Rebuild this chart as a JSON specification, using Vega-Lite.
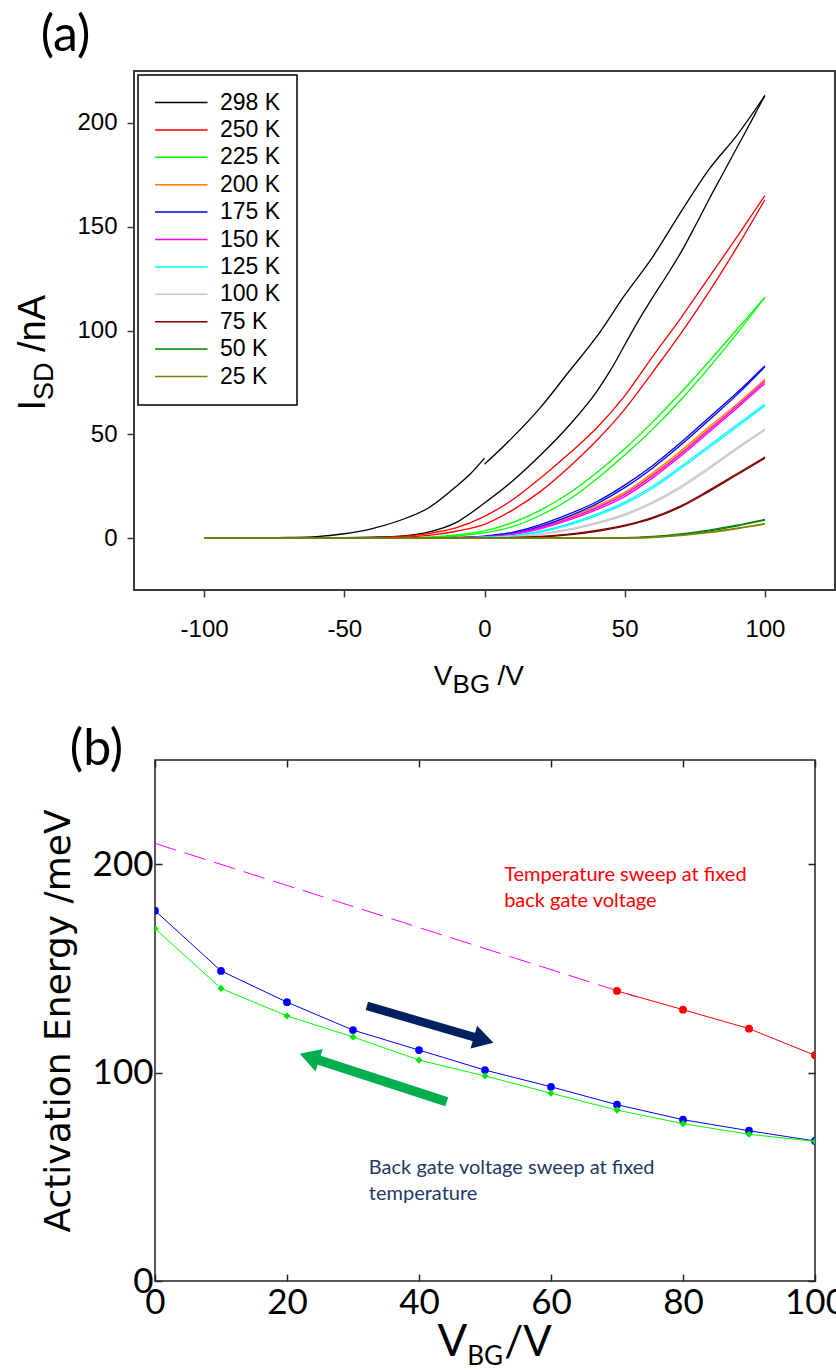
{
  "$schema": "https://vega.github.io/schema/vega-lite/v6.json",
  "background": "white",
  "padding": {"left": 14, "top": 10, "right": 0, "bottom": 0},
  "config": {
    "view": {"stroke": "#3a3a3a", "strokeWidth": 2},
    "axis": {"grid": false, "domain": false, "labelColor": "#000000", "tickColor": "#3a3a3a", "tickWidth": 1.5, "labelOverlap": false, "labelFlush": false},
    "legend": {"strokeWidth": 1.5}
  },
  "datasets": {
    "iv": [
      {"T": "298 K", "s": "a1", "V": [-100, -80, -70, -60, -50, -40, -30, -20, -10, -5, 0], "I": [0, 0.1, 0.3, 0.7, 2.1, 4.6, 8.6, 14.5, 25, 31, 38.5]},
      {"T": "298 K", "s": "a2", "V": [0, 10, 20, 30, 40, 50, 60, 70, 80, 90, 100], "I": [35.6, 48.5, 63, 80, 97, 117, 135.5, 157, 177.5, 194, 213.2]},
      {"T": "298 K", "s": "b", "V": [-100, -60, -50, -40, -30, -20, -10, 0, 10, 20, 30, 40, 45, 50, 55, 60, 65, 70, 75, 80, 85, 90, 95, 100], "I": [0, 0.1, 0.2, 0.5, 1.0, 2.9, 7.6, 16.9, 27.5, 40, 54, 70.5, 81, 93, 105, 116, 126.5, 137.5, 150, 163, 175.5, 188, 200.5, 213.2]},
      {"T": "250 K", "s": "a", "V": [-100, -50, -40, -30, -20, -10, 0, 10, 20, 30, 40, 50, 60, 70, 80, 90, 100], "I": [0, 0, 0.2, 0.8, 2.2, 5, 10.5, 18.5, 29, 40.5, 53, 68.5, 87.5, 106, 125.5, 145, 165]},
      {"T": "250 K", "s": "b", "V": [-100, -50, -40, -30, -20, -10, 0, 10, 20, 30, 40, 50, 60, 70, 80, 90, 100], "I": [0, 0, 0.1, 0.4, 1.3, 3.3, 6.6, 13.5, 22.5, 34, 47, 62, 80, 98.5, 118.5, 140, 163]},
      {"T": "225 K", "s": "a", "V": [-100, -40, -30, -20, -10, 0, 10, 20, 30, 40, 50, 60, 70, 80, 90, 100], "I": [0, 0, 0.2, 0.5, 1.5, 3.5, 7.5, 13.5, 21.5, 31.5, 43, 56, 70, 85, 100.5, 116]},
      {"T": "225 K", "s": "b", "V": [-100, -40, -30, -20, -10, 0, 10, 20, 30, 40, 50, 60, 70, 80, 90, 100], "I": [0, 0, 0, 0.3, 1.0, 2.5, 5.5, 11, 18.5, 28.5, 40, 52.5, 66.5, 82, 98.5, 116]},
      {"T": "200 K", "s": "a", "V": [-100, -20, -10, 0, 10, 20, 30, 40, 50, 60, 70, 80, 90, 100], "I": [0, 0, 0.3, 0.8, 2.3, 5.5, 10, 15.5, 22, 31.5, 42, 53.5, 64.5, 76.5]},
      {"T": "200 K", "s": "b", "V": [-100, -20, -10, 0, 10, 20, 30, 40, 50, 60, 70, 80, 90, 100], "I": [0, 0, 0.2, 0.6, 2, 5, 9.4, 14.8, 21.2, 30.6, 41, 52.5, 63.5, 75.8]},
      {"T": "175 K", "s": "a", "V": [-100, -20, -10, 0, 10, 20, 30, 40, 50, 60, 70, 80, 90, 100], "I": [0, 0, 0.3, 1.0, 2.8, 6.5, 11.5, 17.5, 25.5, 35, 46, 58, 70, 83]},
      {"T": "175 K", "s": "b", "V": [-100, -20, -10, 0, 10, 20, 30, 40, 50, 60, 70, 80, 90, 100], "I": [0, 0, 0.2, 0.7, 2.3, 5.7, 10.5, 16.5, 24.3, 33.8, 44.8, 56.8, 69, 82.5]},
      {"T": "150 K", "s": "a", "V": [-100, -20, -10, 0, 10, 20, 30, 40, 50, 60, 70, 80, 90, 100], "I": [0, 0, 0.2, 0.7, 2, 5, 9.3, 14.5, 21, 30, 40.5, 52, 63.5, 75.5]},
      {"T": "150 K", "s": "b", "V": [-100, -20, -10, 0, 10, 20, 30, 40, 50, 60, 70, 80, 90, 100], "I": [0, 0, 0.1, 0.5, 1.7, 4.5, 8.6, 13.7, 20, 29, 39.5, 51, 62.5, 74.5]},
      {"T": "125 K", "s": "a", "V": [-100, -10, 0, 10, 20, 30, 40, 50, 60, 70, 80, 90, 100], "I": [0, 0, 0.4, 1.2, 3.3, 6.8, 11.5, 17.3, 25, 34.5, 44.5, 54.5, 64.5]},
      {"T": "125 K", "s": "b", "V": [-100, -10, 0, 10, 20, 30, 40, 50, 60, 70, 80, 90, 100], "I": [0, 0, 0.3, 1, 2.9, 6.2, 10.8, 16.5, 24, 33.5, 43.5, 53.5, 63.8]},
      {"T": "100 K", "s": "a", "V": [-100, 0, 10, 20, 30, 40, 50, 60, 70, 80, 90, 100], "I": [0, 0.2, 0.6, 2, 4.3, 7.5, 11.6, 17.5, 25, 34, 43.5, 52.5]},
      {"T": "100 K", "s": "b", "V": [-100, 0, 10, 20, 30, 40, 50, 60, 70, 80, 90, 100], "I": [0, 0.1, 0.5, 1.7, 3.9, 7, 11, 16.8, 24.2, 33.2, 42.8, 52]},
      {"T": "75 K", "s": "a", "V": [-100, 0, 10, 20, 30, 40, 50, 60, 70, 80, 90, 100], "I": [0, 0.1, 0.3, 0.8, 1.9, 3.7, 6.2, 10, 15.5, 23, 31, 39]},
      {"T": "75 K", "s": "b", "V": [-100, 0, 10, 20, 30, 40, 50, 60, 70, 80, 90, 100], "I": [0, 0, 0.2, 0.6, 1.6, 3.3, 5.8, 9.5, 15, 22.4, 30.4, 38.5]},
      {"T": "50 K", "s": "a", "V": [-100, 40, 50, 60, 70, 80, 90, 100], "I": [0, 0, 0.2, 0.8, 2, 3.8, 6.2, 9]},
      {"T": "50 K", "s": "b", "V": [-100, 40, 50, 60, 70, 80, 90, 100], "I": [0, 0, 0.1, 0.6, 1.7, 3.4, 5.8, 8.6]},
      {"T": "25 K", "s": "a", "V": [-100, 50, 60, 70, 80, 90, 100], "I": [0, 0, 0.4, 1.4, 2.9, 4.8, 7]},
      {"T": "25 K", "s": "b", "V": [-100, 50, 60, 70, 80, 90, 100], "I": [0, 0, 0.3, 1.2, 2.6, 4.5, 6.7]}
    ]
  },
  "vconcat": [
    {
      "width": 701,
      "height": 519,
      "resolve": {"axis": {"x": "independent", "y": "independent"}},
      "layer": [
        {
          "data": {"name": "iv"},
          "transform": [{"flatten": ["V", "I"]}],
          "mark": {"type": "line", "strokeWidth": 1.3, "interpolate": "monotone"},
          "encoding": {
            "x": {"field": "V", "type": "quantitative", "scale": {"domain": [-125, 125], "nice": false, "zero": false},
                  "axis": {"orient": "bottom", "values": [-100, -50, 0, 50, 100], "tickSize": 7, "labelFont": "Liberation Sans", "labelFontSize": 24, "labelPadding": 20, "title": null,
                           "labelExpr": "replace(datum.label, '\u2212', '-')"}},
            "y": {"field": "I", "type": "quantitative", "scale": {"domain": [-25, 225], "nice": false, "zero": false},
                  "axis": {"orient": "left", "values": [0, 50, 100, 150, 200], "tickSize": 7, "labelFont": "Liberation Sans", "labelFontSize": 24, "labelPadding": 10, "title": null}},
            "color": {"field": "T", "type": "nominal",
                      "scale": {"domain": ["298 K", "250 K", "225 K", "200 K", "175 K", "150 K", "125 K", "100 K", "75 K", "50 K", "25 K"],
                                "range": ["#000000", "#ff0000", "#00ff00", "#ff8000", "#0000ff", "#ff00ff", "#00ffff", "#c8c8c8", "#800000", "#008000", "#808000"]},
                      "legend": {"orient": "top-left", "offset": 4, "title": null, "symbolType": "M-1,0L4,0", "symbolSize": 441, "symbolStrokeWidth": 1.5,
                                 "labelFont": "Liberation Sans", "labelFontSize": 23, "labelColor": "#000000", "labelOffset": 43, "rowPadding": 3.4,
                                 "padding": 16, "strokeColor": "#000000", "fillColor": "#ffffff", "labelLimit": 300}},
            "detail": {"field": "s"}
          }
        },
        {
          "data": {"values": [{}]},
          "mark": {"type": "text", "text": "(a)", "font": "Lato", "fontSize": 50, "align": "left", "baseline": "alphabetic", "color": "#000000"},
          "encoding": {
            "x": {"datum": -158.3, "type": "quantitative", "scale": {"domain": [-125, 125], "nice": false, "zero": false}, "axis": null},
            "y": {"datum": 234.6, "type": "quantitative", "scale": {"domain": [-25, 225], "nice": false, "zero": false}, "axis": null}
          }
        },
        {
          "data": {"values": [{}]},
          "mark": {"type": "text", "text": "V", "font": "Liberation Sans", "fontSize": 28, "align": "right", "baseline": "alphabetic", "color": "#000000"},
          "encoding": {
            "x": {"datum": -11.4, "type": "quantitative", "scale": {"domain": [-125, 125], "nice": false, "zero": false}, "axis": null},
            "y": {"datum": -70.8, "type": "quantitative", "scale": {"domain": [-25, 225], "nice": false, "zero": false}, "axis": null}
          }
        },
        {
          "data": {"values": [{}]},
          "mark": {"type": "text", "text": "BG", "font": "Liberation Sans", "fontSize": 26, "align": "left", "baseline": "alphabetic", "dy": 8, "color": "#000000"},
          "encoding": {
            "x": {"datum": -11.4, "type": "quantitative", "scale": {"domain": [-125, 125], "nice": false, "zero": false}, "axis": null},
            "y": {"datum": -70.8, "type": "quantitative", "scale": {"domain": [-25, 225], "nice": false, "zero": false}, "axis": null}
          }
        },
        {
          "data": {"values": [{}]},
          "mark": {"type": "text", "text": "/V", "font": "Liberation Sans", "fontSize": 28, "align": "left", "baseline": "alphabetic", "dx": 45, "color": "#000000"},
          "encoding": {
            "x": {"datum": -11.4, "type": "quantitative", "scale": {"domain": [-125, 125], "nice": false, "zero": false}, "axis": null},
            "y": {"datum": -70.8, "type": "quantitative", "scale": {"domain": [-25, 225], "nice": false, "zero": false}, "axis": null}
          }
        },
        {
          "data": {"values": [{}]},
          "mark": {"type": "text", "text": "I", "font": "Liberation Sans", "fontSize": 38, "align": "right", "baseline": "alphabetic", "angle": 270, "color": "#000000"},
          "encoding": {
            "x": {"datum": -156.6, "type": "quantitative", "scale": {"domain": [-125, 125], "nice": false, "zero": false}, "axis": null},
            "y": {"datum": 66.5, "type": "quantitative", "scale": {"domain": [-25, 225], "nice": false, "zero": false}, "axis": null}
          }
        },
        {
          "data": {"values": [{}]},
          "mark": {"type": "text", "text": "SD", "font": "Liberation Sans", "fontSize": 27, "align": "left", "baseline": "alphabetic", "angle": 270, "dy": 8, "color": "#000000"},
          "encoding": {
            "x": {"datum": -156.6, "type": "quantitative", "scale": {"domain": [-125, 125], "nice": false, "zero": false}, "axis": null},
            "y": {"datum": 66.5, "type": "quantitative", "scale": {"domain": [-25, 225], "nice": false, "zero": false}, "axis": null}
          }
        },
        {
          "data": {"values": [{}]},
          "mark": {"type": "text", "text": "/nA", "font": "Liberation Sans", "fontSize": 38, "align": "left", "baseline": "alphabetic", "angle": 270, "dx": 48, "color": "#000000"},
          "encoding": {
            "x": {"datum": -156.6, "type": "quantitative", "scale": {"domain": [-125, 125], "nice": false, "zero": false}, "axis": null},
            "y": {"datum": 66.5, "type": "quantitative", "scale": {"domain": [-25, 225], "nice": false, "zero": false}, "axis": null}
          }
        }
      ]
    },
    {
      "hconcat": [
        {
          "width": 1,
          "height": 1,
          "view": {"stroke": null},
          "data": {"values": [{}]},
          "mark": {"type": "point", "opacity": 0},
          "encoding": {}
        },
        {
          "width": 660,
          "height": 521,
          "view": {"stroke": "#222222", "strokeWidth": 1.5},
          "resolve": {"axis": {"x": "independent", "y": "independent"}},
          "layer": [
            {
              "data": {"values": [{"x": 0, "E": 210}, {"x": 73, "E": 136.3}]},
              "mark": {"type": "line", "color": "#ff00ff", "strokeWidth": 1, "strokeDash": [22, 9]},
              "encoding": {
                "x": {"field": "x", "type": "quantitative", "scale": {"domain": [0, 100], "nice": false, "zero": false},
                      "axis": {"orient": "bottom", "values": [0, 20, 40, 60, 80, 100], "tickSize": -7, "labelPadding": 11, "tickColor": "#222222",
                               "labelFont": "Lato", "labelFontSize": 35, "title": null}},
                "y": {"field": "E", "type": "quantitative", "scale": {"domain": [0, 250], "nice": false, "zero": false},
                      "axis": {"orient": "left", "values": [0, 100, 200], "tickSize": -7, "labelPadding": 9, "tickColor": "#222222",
                               "labelFont": "Lato", "labelFontSize": 35,
                               "title": "Activation Energy /meV", "titleFont": "DejaVu Sans", "titleFontSize": 36, "titleFontWeight": "normal", "titleColor": "#000000", "titlePadding": 15}}
              }
            },
            {
              "data": {"values": [{"x": 0, "E": 177.7}, {"x": 10, "E": 148.8}, {"x": 20, "E": 133.8}, {"x": 30, "E": 120.4}, {"x": 40, "E": 110.8}, {"x": 50, "E": 101.2}, {"x": 60, "E": 93.2}, {"x": 70, "E": 84.6}, {"x": 80, "E": 77.4}, {"x": 90, "E": 72.1}, {"x": 100, "E": 67.2}]},
              "mark": {"type": "line", "color": "#0000ff", "strokeWidth": 1, "clip": true, "point": {"filled": true, "size": 60, "color": "#0000ff", "shape": "circle"}},
              "encoding": {
                "x": {"field": "x", "type": "quantitative", "scale": {"domain": [0, 100], "nice": false, "zero": false},
                      "axis": {"orient": "top", "values": [0, 20, 40, 60, 80, 100], "tickSize": -7, "labels": false, "tickColor": "#222222", "title": null}},
                "y": {"field": "E", "type": "quantitative", "scale": {"domain": [0, 250], "nice": false, "zero": false},
                      "axis": {"orient": "right", "values": [0, 100, 200], "tickSize": -7, "labels": false, "tickColor": "#222222", "title": null}}
              }
            },
            {
              "data": {"values": [{"x": 0, "E": 169.1}, {"x": 10, "E": 140.4}, {"x": 20, "E": 127.2}, {"x": 30, "E": 117.1}, {"x": 40, "E": 106.0}, {"x": 50, "E": 98.4}, {"x": 60, "E": 90.1}, {"x": 70, "E": 82.0}, {"x": 80, "E": 75.5}, {"x": 90, "E": 70.4}, {"x": 100, "E": 67.0}]},
              "mark": {"type": "line", "color": "#00ff00", "strokeWidth": 1, "clip": true, "point": {"filled": true, "size": 50, "color": "#00e600", "shape": "diamond"}},
              "encoding": {
                "x": {"field": "x", "type": "quantitative", "scale": {"domain": [0, 100], "nice": false, "zero": false}, "axis": null},
                "y": {"field": "E", "type": "quantitative", "scale": {"domain": [0, 250], "nice": false, "zero": false}, "axis": null}
              }
            },
            {
              "data": {"values": [{"x": 70, "E": 139.2}, {"x": 80, "E": 130.2}, {"x": 90, "E": 121.1}, {"x": 100, "E": 108.3}]},
              "mark": {"type": "line", "color": "#ff0000", "strokeWidth": 1, "clip": true, "point": {"filled": true, "size": 62, "color": "#ff0000", "shape": "circle"}},
              "encoding": {
                "x": {"field": "x", "type": "quantitative", "scale": {"domain": [0, 100], "nice": false, "zero": false}, "axis": null},
                "y": {"field": "E", "type": "quantitative", "scale": {"domain": [0, 250], "nice": false, "zero": false}, "axis": null}
              }
            },
            {
              "data": {"values": [{"x": 32.1, "E": 132.0}, {"x": 49.8, "E": 115.7}]},
              "mark": {"type": "line", "color": "#002060", "strokeWidth": 8.5, "strokeCap": "butt"},
              "encoding": {
                "x": {"field": "x", "type": "quantitative", "scale": {"domain": [0, 100], "nice": false, "zero": false}, "axis": null},
                "y": {"field": "E", "type": "quantitative", "scale": {"domain": [0, 250], "nice": false, "zero": false}, "axis": null}
              }
            },
            {
              "data": {"values": [{"x": 49.8, "E": 115.7}]},
              "mark": {"type": "point", "shape": "triangle-right", "angle": 16, "size": 560, "filled": true, "color": "#002060", "opacity": 1},
              "encoding": {
                "x": {"field": "x", "type": "quantitative", "scale": {"domain": [0, 100], "nice": false, "zero": false}, "axis": null},
                "y": {"field": "E", "type": "quantitative", "scale": {"domain": [0, 250], "nice": false, "zero": false}, "axis": null}
              }
            },
            {
              "data": {"values": [{"x": 44.2, "E": 86.0}, {"x": 23.4, "E": 107.5}]},
              "mark": {"type": "line", "color": "#00b050", "strokeWidth": 9.5, "strokeCap": "butt"},
              "encoding": {
                "x": {"field": "x", "type": "quantitative", "scale": {"domain": [0, 100], "nice": false, "zero": false}, "axis": null},
                "y": {"field": "E", "type": "quantitative", "scale": {"domain": [0, 250], "nice": false, "zero": false}, "axis": null}
              }
            },
            {
              "data": {"values": [{"x": 23.4, "E": 107.5}]},
              "mark": {"type": "point", "shape": "triangle-left", "angle": 18, "size": 560, "filled": true, "color": "#00b050", "opacity": 1},
              "encoding": {
                "x": {"field": "x", "type": "quantitative", "scale": {"domain": [0, 100], "nice": false, "zero": false}, "axis": null},
                "y": {"field": "E", "type": "quantitative", "scale": {"domain": [0, 250], "nice": false, "zero": false}, "axis": null}
              }
            },
            {
              "data": {"values": [{"x": 52.9, "E": 191.9, "t": "Temperature sweep at fixed\nback gate voltage"}]},
              "mark": {"type": "text", "align": "left", "baseline": "alphabetic", "font": "Lato", "fontSize": 20, "lineBreak": "\n", "lineHeight": 26, "color": "#ff0000"},
              "encoding": {
                "x": {"field": "x", "type": "quantitative", "scale": {"domain": [0, 100], "nice": false, "zero": false}, "axis": null},
                "y": {"field": "E", "type": "quantitative", "scale": {"domain": [0, 250], "nice": false, "zero": false}, "axis": null},
                "text": {"field": "t"}
              }
            },
            {
              "data": {"values": [{"x": 32.4, "E": 51.3, "t": "Back gate voltage sweep at fixed\ntemperature"}]},
              "mark": {"type": "text", "align": "left", "baseline": "alphabetic", "font": "Lato", "fontSize": 20, "lineBreak": "\n", "lineHeight": 26, "color": "#1f3864"},
              "encoding": {
                "x": {"field": "x", "type": "quantitative", "scale": {"domain": [0, 100], "nice": false, "zero": false}, "axis": null},
                "y": {"field": "E", "type": "quantitative", "scale": {"domain": [0, 250], "nice": false, "zero": false}, "axis": null},
                "text": {"field": "t"}
              }
            },
            {
              "data": {"values": [{}]},
              "mark": {"type": "text", "text": "(b)", "font": "Lato", "fontSize": 50, "align": "left", "baseline": "alphabetic", "color": "#000000"},
              "encoding": {
                "x": {"datum": -12.9, "type": "quantitative", "scale": {"domain": [0, 100], "nice": false, "zero": false}, "axis": null},
                "y": {"datum": 247.8, "type": "quantitative", "scale": {"domain": [0, 250], "nice": false, "zero": false}, "axis": null}
              }
            },
            {
              "data": {"values": [{}]},
              "mark": {"type": "text", "text": "V", "font": "Lato", "fontSize": 44, "align": "right", "baseline": "alphabetic", "color": "#000000"},
              "encoding": {
                "x": {"datum": 47.3, "type": "quantitative", "scale": {"domain": [0, 100], "nice": false, "zero": false}, "axis": null},
                "y": {"datum": -36, "type": "quantitative", "scale": {"domain": [0, 250], "nice": false, "zero": false}, "axis": null}
              }
            },
            {
              "data": {"values": [{}]},
              "mark": {"type": "text", "text": "BG", "font": "Lato", "fontSize": 26, "align": "left", "baseline": "alphabetic", "dy": 9, "color": "#000000"},
              "encoding": {
                "x": {"datum": 47.3, "type": "quantitative", "scale": {"domain": [0, 100], "nice": false, "zero": false}, "axis": null},
                "y": {"datum": -36, "type": "quantitative", "scale": {"domain": [0, 250], "nice": false, "zero": false}, "axis": null}
              }
            },
            {
              "data": {"values": [{}]},
              "mark": {"type": "text", "text": "/V", "font": "Lato", "fontSize": 42, "align": "left", "baseline": "alphabetic", "dx": 37, "color": "#000000"},
              "encoding": {
                "x": {"datum": 47.3, "type": "quantitative", "scale": {"domain": [0, 100], "nice": false, "zero": false}, "axis": null},
                "y": {"datum": -36, "type": "quantitative", "scale": {"domain": [0, 250], "nice": false, "zero": false}, "axis": null}
              }
            }
          ]
        }
      ],
      "spacing": 20,
      "bounds": "flush"
    }
  ],
  "spacing": 170,
  "bounds": "flush"
}
